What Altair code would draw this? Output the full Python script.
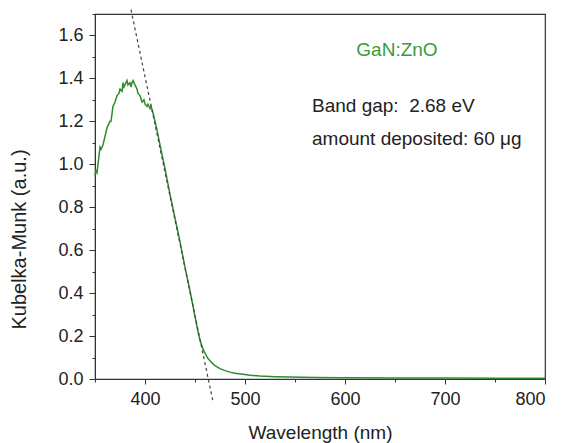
import altair as alt
import pandas as pd

# Kubelka-Munk spectrum of GaN:ZnO
wavelength = [350, 351, 352, 353, 355, 356, 358, 360, 362, 363, 365, 366, 368, 370,
              372, 374, 375, 377, 378, 379, 380, 382, 383, 385, 386, 387, 388, 390,
              392, 393, 395, 397, 399, 400, 402, 403, 405, 406, 408, 410, 412, 415,
              420, 425, 430, 435, 440, 445, 448, 450, 453, 455, 458, 460, 463, 467,
              470, 475, 480, 485, 490, 498, 505, 515, 530, 545, 570, 600, 650, 700,
              750, 800]
km = [0.95, 0.97, 0.96, 1.00, 1.08, 1.07, 1.09, 1.13, 1.17, 1.18, 1.20, 1.20, 1.27, 1.29,
      1.32, 1.33, 1.35, 1.34, 1.38, 1.36, 1.37, 1.39, 1.37, 1.38, 1.36, 1.38, 1.39, 1.37,
      1.35, 1.33, 1.32, 1.29, 1.30, 1.28, 1.27, 1.28, 1.26, 1.27, 1.24, 1.20, 1.16, 1.09,
      0.98, 0.86, 0.75, 0.64, 0.52, 0.41, 0.34, 0.29, 0.22, 0.18, 0.14, 0.12, 0.095, 0.075,
      0.062, 0.048, 0.039, 0.032, 0.027, 0.022, 0.018, 0.014, 0.011, 0.009, 0.007, 0.006,
      0.005, 0.005, 0.004, 0.004]

# Tangent (band-gap extrapolation) line end points
fit_x = [386, 468]
fit_y = [1.72, -0.105]

x_major = [400, 500, 600, 700, 800]
x_minor = [350, 450, 550, 650, 750]
y_major = [0.0, 0.2, 0.4, 0.6, 0.8, 1.0, 1.2, 1.4, 1.6]
y_minor = [0.1, 0.3, 0.5, 0.7, 0.9, 1.1, 1.3, 1.5, 1.7]

label_sample = ["GaN:ZnO"]
label_gap = ["Band gap:\u00a0 2.68 eV"]
label_amount = ["amount deposited: 60 \u03bcg"]

spec = pd.DataFrame({"wl": wavelength, "km": km})
fit = pd.DataFrame({"wl": fit_x, "km": fit_y})

FONT = "Liberation Sans"
AX = "#333333"
W, H = 450, 365

xs = alt.Scale(domain=[350, 800], nice=False, zero=False)
ys = alt.Scale(domain=[0, 1.7], nice=False)

x_axis = alt.Axis(values=x_major, title="Wavelength (nm)", orient="bottom",
                  grid=False, tickSize=5, tickColor=AX, domainColor=AX,
                  labelFont=FONT, labelFontSize=18, labelColor="#222",
                  labelPadding=6, titleFont=FONT, titleFontSize=19,
                  titleFontWeight="normal", titleColor="#222",
                  titleY=53, titleBaseline="middle")
y_axis = alt.Axis(values=y_major, title="Kubelka-Munk (a.u.)", orient="left",
                  grid=False, tickSize=6, tickColor=AX, domainColor=AX,
                  labelFont=FONT, labelFontSize=18, labelColor="#222",
                  labelPadding=6, format=".1f", titleFont=FONT, titleFontSize=20,
                  titleFontWeight="normal", titleColor="#222",
                  titleX=-76, titleY=225, titleAngle=270, titleBaseline="middle")

x_minor_axis = alt.Axis(values=x_minor, orient="bottom", labels=False, title=None,
                        grid=False, domain=False, tickSize=3, tickColor=AX)
y_minor_axis = alt.Axis(values=y_minor, orient="left", labels=False, title=None,
                        grid=False, domain=False, tickSize=3, tickColor=AX)

curve = alt.Chart(spec).mark_line(color="#2e8b2e", strokeWidth=1.5).encode(
    x=alt.X("wl:Q", scale=xs, axis=x_axis),
    y=alt.Y("km:Q", scale=ys, axis=y_axis),
)

tangent = alt.Chart(fit).mark_line(color="#444444", strokeWidth=1.2,
                                   strokeDash=[3, 3], clip=False).encode(
    x=alt.X("wl:Q", scale=xs, axis=x_minor_axis),
    y=alt.Y("km:Q", scale=ys, axis=y_minor_axis),
)

sample_txt = alt.Chart(pd.DataFrame({"t": label_sample})).mark_text(
    font=FONT, fontSize=19, color="#3a9a3a", align="center", baseline="middle"
).encode(text="t:N", x=alt.value(302), y=alt.value(36))

gap_txt = alt.Chart(pd.DataFrame({"t": label_gap})).mark_text(
    font=FONT, fontSize=19, color="#222", align="left", baseline="middle"
).encode(text="t:N", x=alt.value(217), y=alt.value(92))

amount_txt = alt.Chart(pd.DataFrame({"t": label_amount})).mark_text(
    font=FONT, fontSize=19, color="#222", align="left", baseline="middle"
).encode(text="t:N", x=alt.value(217), y=alt.value(125))

chart = alt.layer(curve, tangent, sample_txt, gap_txt, amount_txt).resolve_axis(
    x="independent", y="independent"
).properties(
    width=W, height=H,
    autosize=alt.AutoSizeParams(type="none"),
    padding={"left": 95, "top": 14, "right": 16, "bottom": 64},
    background="white",
).configure_view(stroke=AX, strokeWidth=1.2)

chart.save("out.html", embed_options={"renderer": "svg", "actions": False})
